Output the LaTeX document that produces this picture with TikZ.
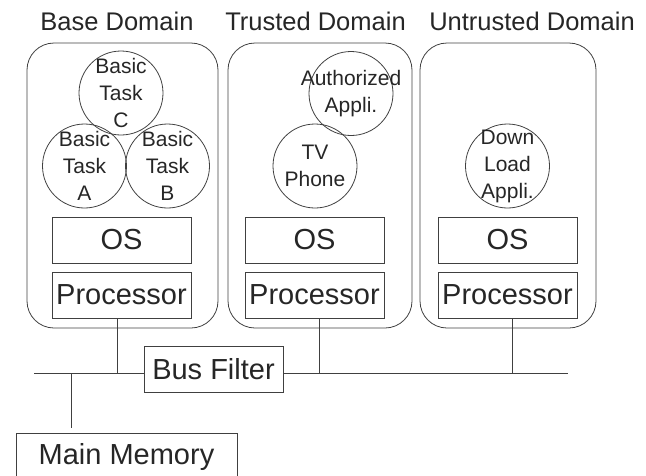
\documentclass[tikz,border=0pt]{standalone}
\usepackage{fontspec}
\setmainfont{Liberation Sans}
\usepackage{tikz}
\usetikzlibrary{positioning}

\begin{document}
\begin{tikzpicture}[x=1pt, y=-1pt, line width=0.8pt, color=black!85,
		domainbox/.style={draw=black!75, rounded corners=27pt, minimum height=285pt, inner sep=0pt, outer sep=0pt},
		layerbox/.style={draw=black!75, minimum width=139pt, minimum height=46pt, inner sep=0pt, outer sep=0pt, font=\fontsize{29}{33}\selectfont},
		taskcircle/.style={draw=black!75, circle, minimum size=84pt, inner sep=0pt},
		tasktext/.style={align=center, inner sep=0pt, font=\fontsize{21}{27}\selectfont},
		titletext/.style={anchor=base, inner sep=0pt, font=\fontsize{25.5}{30}\selectfont},
		busline/.style={draw=black!75}]
		\clip (0,0) rectangle (646,475);
		
		% Domain titles
		\node[titletext] (tbase) at (117,30) {Base Domain};
		\node[titletext] (ttrust) at (315.5,30) {Trusted Domain};
		\node[titletext] (tuntrust) at (532,30) {Untrusted Domain};
		
		% Domains
		\node[domainbox, minimum width=191pt] (base) at (122.5,185.5) {};
		\node[domainbox, minimum width=184pt] (trust) at (320,185.5) {};
		\node[domainbox, minimum width=176pt] (untrust) at (508,185.5) {};
		
		% Tasks and applications
		\node[taskcircle, label={[tasktext]center:{Basic\\Task\\C}}] (taskc) at (121,93) {};
		\node[taskcircle, label={[tasktext]center:{Basic\\Task\\A}}] (taska) at (84.5,166) {};
		\node[taskcircle, label={[tasktext]center:{Basic\\Task\\B}}] (taskb) at (167.5,166) {};
		\node[taskcircle, label={[tasktext]center:{Authorized\\Appli.}}] (authappli) at (351,93.5) {};
		\node[taskcircle, label={[tasktext]center:{TV\\Phone}}] (tvphone) at (315,166) {};
		\node[taskcircle, label={[tasktext]center:{Down\\Load\\Appli.}}] (dlappli) at (507.5,166) {};
		
		% OS and processors
		\node[layerbox] (os1) at (121.5,240) {OS};
		\node[layerbox] (os2) at (314.5,240) {OS};
		\node[layerbox] (os3) at (507.5,240) {OS};
		\node[layerbox, below=9pt of os1] (proc1) {Processor};
		\node[layerbox, below=9pt of os2] (proc2) {Processor};
		\node[layerbox, below=9pt of os3] (proc3) {Processor};
		
		% Bus
		\node[layerbox] (filter) at (213.5,369) {Bus Filter};
		\node[layerbox, minimum width=221pt, minimum height=48pt] (mem) at (126.5,457) {Main Memory};
		\coordinate (busl) at (34,373);
		\coordinate (busr) at (568,373);
		\coordinate (j0) at (71,373);
		\coordinate (j1) at (117,373);
		\coordinate (j2) at (319,373);
		\coordinate (j3) at (512,373);
		\draw[busline] (busl) -- (busl -| filter.west);
		\draw[busline] (filter.east |- busr) -- (busr);
		\draw[busline] (proc1.south -| j1) -- (j1);
		\draw[busline] (proc2.south -| j2) -- (j2);
		\draw[busline] (proc3.south -| j3) -- (j3);
		\draw[busline] (j0) -- ([yshift=5pt]mem.north -| j0);
		
	\end{tikzpicture}
\end{document}
